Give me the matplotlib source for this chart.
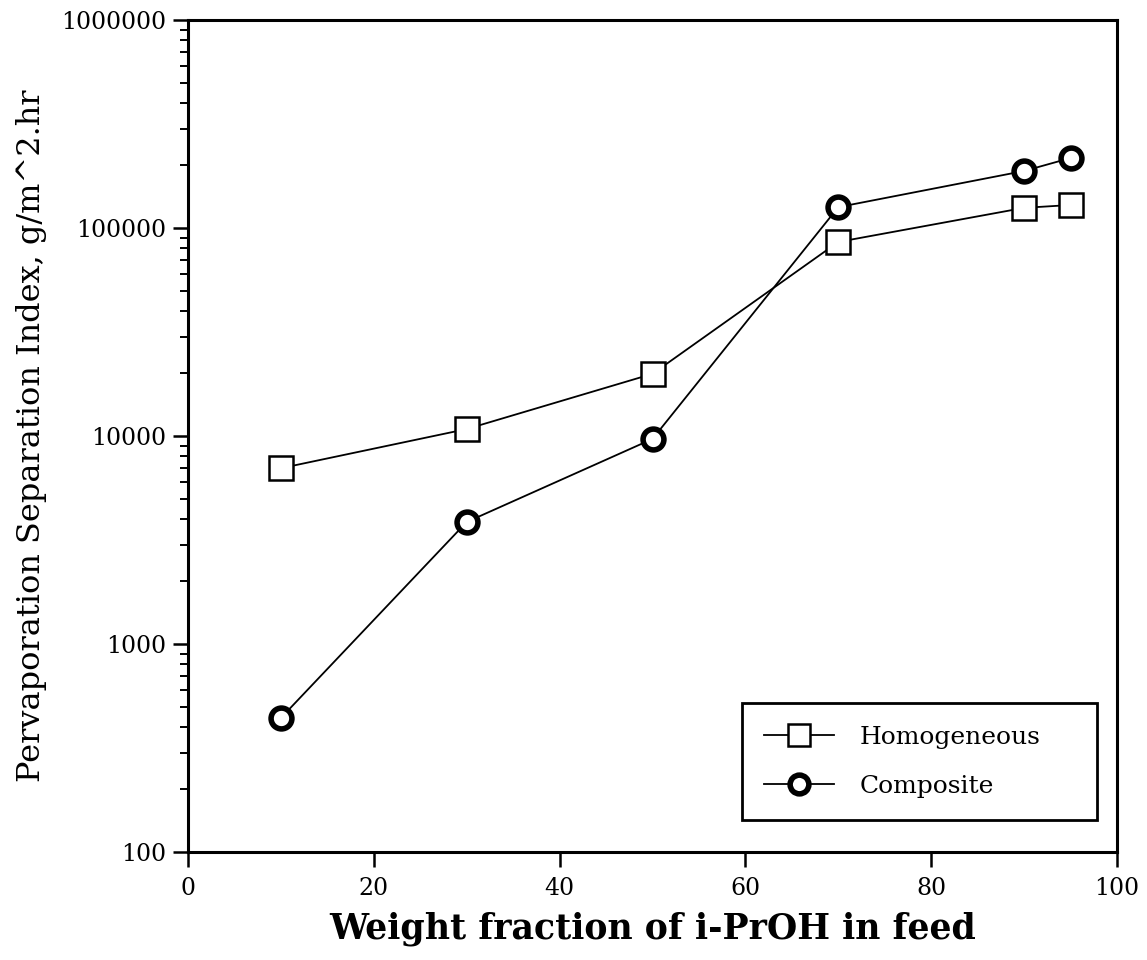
import matplotlib
matplotlib.use("Agg")
import matplotlib.pyplot as plt
from matplotlib.ticker import LogLocator, FixedLocator, NullFormatter

# data
feed = [10, 30, 50, 70, 90, 95]
homogeneous = [7000, 10800, 19900, 85700, 125000, 129000]
composite = [441, 3860, 9680, 126000, 188000, 217000]
xticks = [0, 20, 40, 60, 80, 100]
yticks = [100, 1000, 10000, 100000, 1000000]

plt.rcParams['font.family'] = ['DejaVu Serif']

fig = plt.figure(figsize=(11.47, 9.6), dpi=100)
ax = fig.add_axes([188 / 1147, 1 - 852 / 960, 929 / 1147, 832 / 960])

ax.plot(feed, homogeneous, color='black', lw=1.3, marker='s', ms=17,
        mfc='white', mec='black', mew=1.8, label='Homogeneous')
ax.plot(feed, composite, color='black', lw=1.3, marker='o', ms=15,
        mfc='white', mec='black', mew=4, label='Composite')

ax.set_yscale('log')
ax.set_xlim(0, 100)
ax.set_ylim(100, 1000000)
ax.xaxis.set_major_locator(FixedLocator(xticks))
ax.yaxis.set_major_locator(FixedLocator(yticks))
ax.set_yticklabels([str(v) for v in yticks])
ax.yaxis.set_minor_locator(LogLocator(base=10, subs=range(2, 10)))
ax.yaxis.set_minor_formatter(NullFormatter())

ax.tick_params(which='major', direction='out', length=11, width=1.8,
               labelsize=17, pad=5)
ax.tick_params(axis='x', which='major', pad=7)
ax.tick_params(which='minor', direction='out', length=6, width=1.4)
for s in ax.spines.values():
    s.set_linewidth(2.2)

ax.set_xlabel('Weight fraction of i-PrOH in feed', fontsize=25,
              fontweight='bold', labelpad=8)
ax.set_ylabel('Pervaporation Separation Index, g/m^2.hr', fontsize=23, labelpad=10)

# legend box spans a fixed width, entries left aligned
leg = ax.legend(loc='lower left', bbox_to_anchor=(0.596, 0.038, 0.382, 0.1),
                mode='expand', fontsize=18,
                frameon=True, fancybox=False, edgecolor='black',
                borderpad=0.9, labelspacing=1.05, handlelength=2.8,
                handletextpad=1.0, borderaxespad=0, markerscale=0.9)
leg.get_frame().set_linewidth(2)
leg.get_frame().set_alpha(1)

fig.savefig('out.png', dpi=100)
